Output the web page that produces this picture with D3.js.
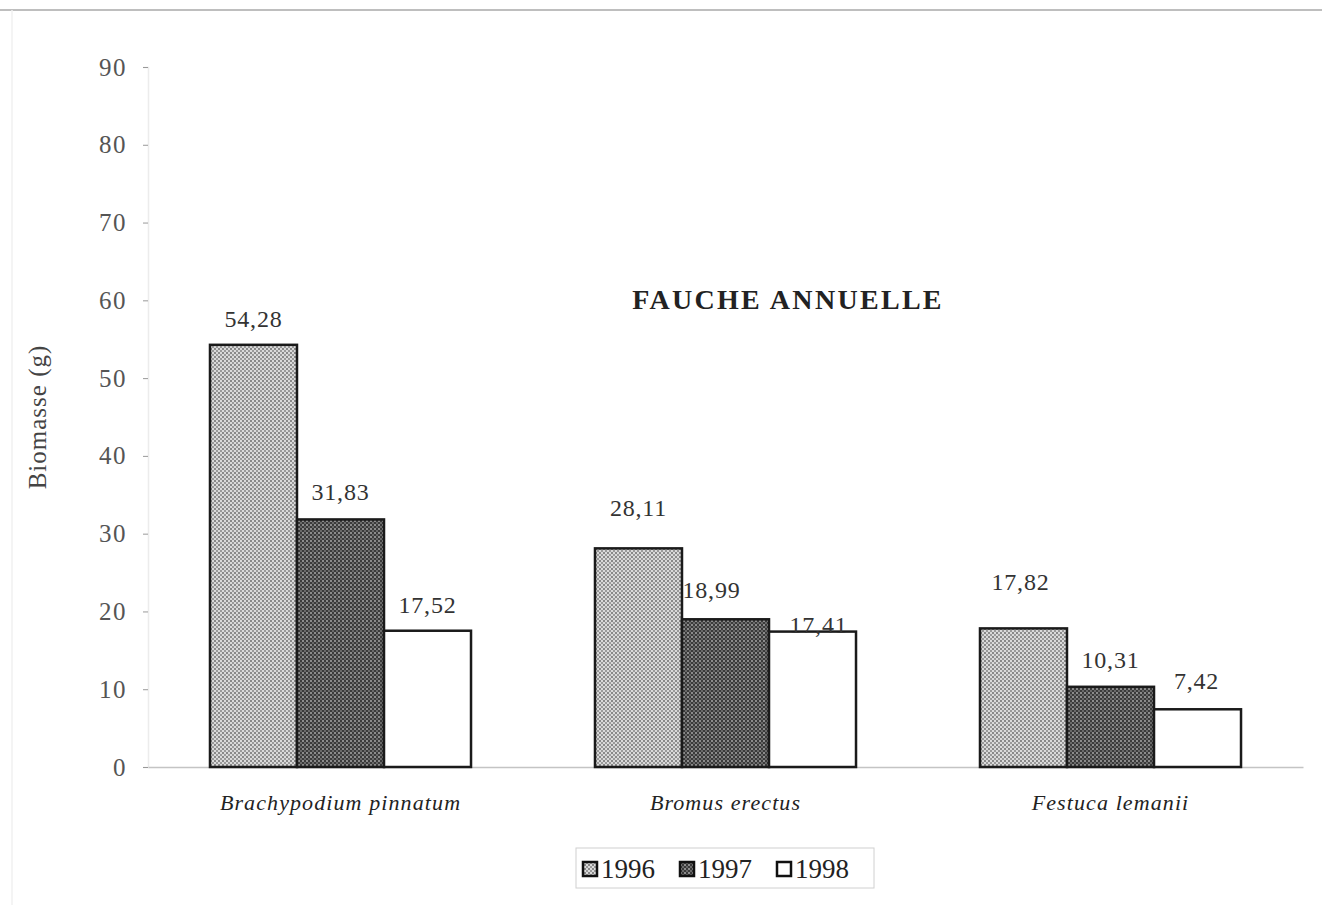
<!DOCTYPE html>
<html>
<head>
<meta charset="utf-8">
<script src="https://cdn.jsdelivr.net/npm/d3@7/dist/d3.min.js"></script>
<style>
  html, body { margin: 0; padding: 0; background: #fff; }
  svg, svg text { font-family: "Liberation Serif", "DejaVu Serif", serif !important; }
</style>
</head>
<body>
<svg id="chart" width="1322" height="905"></svg>
<script>
const categories = ["Brachypodium pinnatum", "Bromus erectus", "Festuca lemanii"];
const years = ["1996", "1997", "1998"];
const values1996 = [54.28, 28.11, 17.82];
const values1997 = [31.83, 18.99, 10.31];
const values1998 = [17.52, 17.41, 7.42];
const yTicks = [0, 10, 20, 30, 40, 50, 60, 70, 80, 90];
const titleText = "FAUCHE ANNUELLE";
const yLabel = "Biomasse (g)";

(function () {
const series = [values1996, values1997, values1998];
const svg = d3.select("#chart");
const SERIF = "Liberation Serif";

// patterns
const defs = svg.append("defs");
const p1 = defs.append("pattern").attr("id", "pat1996").attr("patternUnits", "userSpaceOnUse")
  .attr("width", 4).attr("height", 4);
p1.append("rect").attr("width", 4).attr("height", 4).attr("fill", "#dadada");
p1.append("rect").attr("x", 0).attr("y", 0).attr("width", 2).attr("height", 2).attr("fill", "#888");
p1.append("rect").attr("x", 2).attr("y", 2).attr("width", 2).attr("height", 2).attr("fill", "#999");
const p2 = defs.append("pattern").attr("id", "pat1997").attr("patternUnits", "userSpaceOnUse")
  .attr("width", 4).attr("height", 4);
p2.append("rect").attr("width", 4).attr("height", 4).attr("fill", "#3a3a3a");
p2.append("rect").attr("x", 0).attr("y", 0).attr("width", 2).attr("height", 2).attr("fill", "#8c8c8c");
p2.append("rect").attr("x", 2).attr("y", 2).attr("width", 2).attr("height", 2).attr("fill", "#6a6a6a");
const fills = ["url(#pat1996)", "url(#pat1997)", "#ffffff"];

// frame lines
svg.append("line").attr("x1", 0).attr("x2", 1322).attr("y1", 10).attr("y2", 10)
  .attr("stroke", "#a8a8a8").attr("stroke-width", 1.5);
svg.append("line").attr("x1", 12).attr("x2", 12).attr("y1", 10).attr("y2", 905)
  .attr("stroke", "#f0f0f0").attr("stroke-width", 1.5);

const mLeft = 148, mRight = 1303, mTop = 67, mBottom = 767;
const y = d3.scaleLinear().domain([0, 90]).range([mBottom, mTop]);
const x0 = d3.scaleBand().domain(categories).range([mLeft, mRight]).paddingInner(0.322).paddingOuter(0.161);
const x1 = d3.scaleBand().domain(years).range([0, x0.bandwidth()]).padding(0);

// y axis
const yAxis = d3.axisLeft(y).tickValues(yTicks).tickSize(5).tickPadding(16).tickFormat(d3.format("d"));
const gy = svg.append("g").attr("transform", `translate(${mLeft},0)`).call(yAxis)
  .attr("font-family", SERIF);
gy.select(".domain").attr("stroke", "#ececec").attr("stroke-width", 1.5);
gy.selectAll(".tick line").attr("stroke", "#999");
gy.selectAll(".tick text").attr("font-size", 25).attr("fill", "#555")
  .attr("letter-spacing", 1.5).attr("font-family", SERIF);

// x axis
const xAxis = d3.axisBottom(x0).tickSize(0).tickPadding(27);
const gx = svg.append("g").attr("transform", `translate(0,${mBottom})`).call(xAxis)
  .attr("font-family", SERIF);
gx.select(".domain").attr("stroke", "#c4c4c4").attr("stroke-width", 1.5);
gx.selectAll(".tick text").attr("font-size", 22).attr("font-style", "italic").attr("fill", "#222")
  .attr("letter-spacing", 1.1).attr("font-family", SERIF);

// bars
const groups = svg.append("g").selectAll("g").data(categories).join("g")
  .attr("transform", d => `translate(${x0(d)},0)`);
groups.selectAll("rect").data((d, i) => years.map((yr, j) => ({ yr, j, v: series[j][i] })))
  .join("rect")
  .attr("x", d => x1(d.yr))
  .attr("y", d => y(d.v))
  .attr("width", x1.bandwidth())
  .attr("height", d => y(0) - y(d.v))
  .attr("fill", d => fills[d.j])
  .attr("stroke", "#1a1a1a").attr("stroke-width", 2.5);

// value labels (Excel-style positions, slightly staggered)
const labelDy = [[18, 19, 18], [32, 21, -1], [38, 19, 20]];
const labelDx = [[0, 0, 0], [0, -14, 6], [-3, 0, -1]];
groups.selectAll("text.val").data((d, i) => years.map((yr, j) => ({ yr, j, i, v: series[j][i] })))
  .join("text").attr("class", "val")
  .attr("x", d => x1(d.yr) + x1.bandwidth() / 2 + labelDx[d.i][d.j])
  .attr("y", d => y(d.v) - labelDy[d.i][d.j])
  .attr("text-anchor", "middle").attr("font-family", SERIF)
  .attr("font-size", 24).attr("letter-spacing", 0.8).attr("fill", "#333")
  .text(d => d.v.toFixed(2).replace(".", ","));

// title
svg.append("text").attr("x", 788).attr("y", 309).attr("text-anchor", "middle")
  .attr("font-family", SERIF)
  .attr("font-size", 28).attr("font-weight", "bold").attr("letter-spacing", 2.3)
  .attr("fill", "#222").text(titleText);

// y label
svg.append("text").attr("transform", "translate(46,417) rotate(-90)").attr("text-anchor", "middle")
  .attr("font-family", SERIF)
  .attr("font-size", 25).attr("letter-spacing", 1).attr("fill", "#444").text(yLabel);

// legend
const lg = svg.append("g");
lg.append("rect").attr("x", 576).attr("y", 848).attr("width", 298).attr("height", 40)
  .attr("fill", "#fff").attr("stroke", "#d0d0d0").attr("stroke-width", 1);
const legendX = [583, 680, 777];
years.forEach((yr, j) => {
  lg.append("rect").attr("x", legendX[j]).attr("y", 862).attr("width", 14).attr("height", 14)
    .attr("fill", fills[j]).attr("stroke", "#111").attr("stroke-width", 2.5);
  lg.append("text").attr("x", legendX[j] + 18).attr("y", 878).attr("font-family", SERIF)
    .attr("font-size", 27).attr("fill", "#222").text(yr);
});
})();
</script>
</body>
</html>
